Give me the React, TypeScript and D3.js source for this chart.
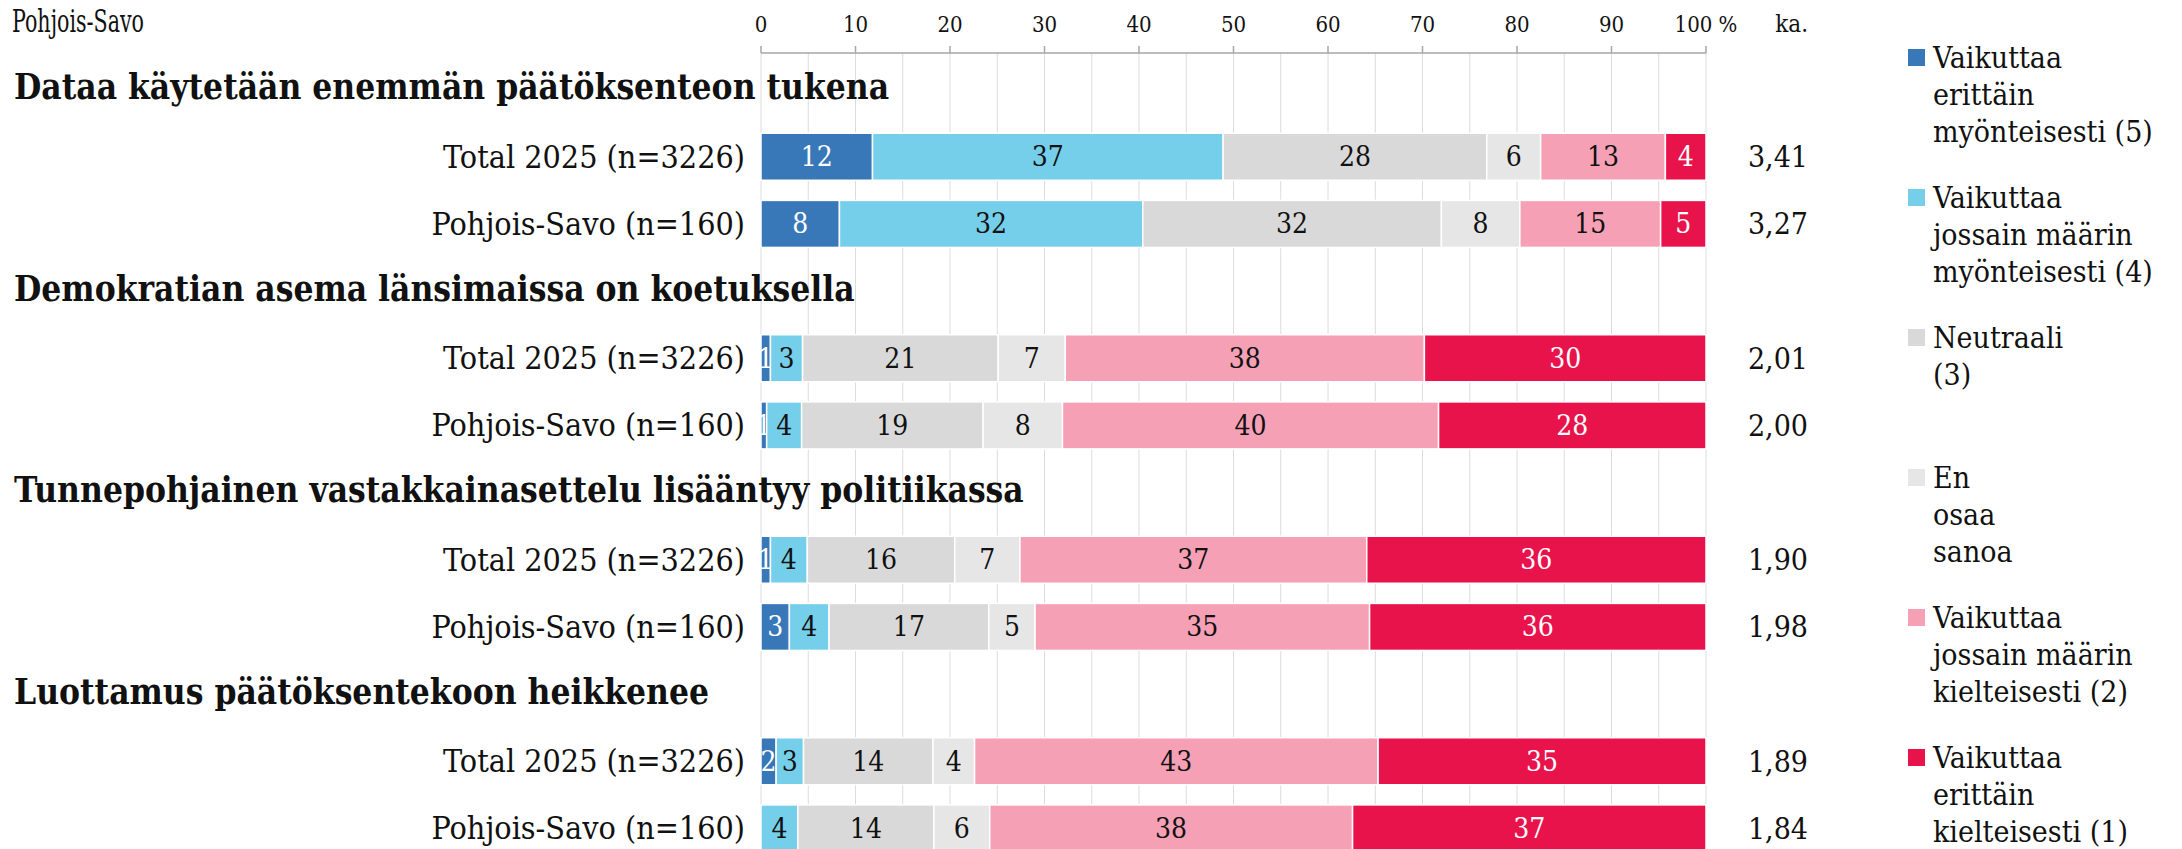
import React from 'react';
import * as d3 from 'd3';

// chart data
const title = 'Pohjois-Savo';
const statements = [
  'Dataa käytetään enemmän päätöksenteon tukena',
  'Demokratian asema länsimaissa on koetuksella',
  'Tunnepohjainen vastakkainasettelu lisääntyy politiikassa',
  'Luottamus päätöksentekoon heikkenee',
];
const groups = ['Total 2025 (n=3226)', 'Pohjois-Savo (n=160)'];
const legendLabels = [
  ['Vaikuttaa', 'erittäin', 'myönteisesti (5)'],
  ['Vaikuttaa', 'jossain määrin', 'myönteisesti (4)'],
  ['Neutraali', '(3)'],
  ['En', 'osaa', 'sanoa'],
  ['Vaikuttaa', 'jossain määrin', 'kielteisesti (2)'],
  ['Vaikuttaa', 'erittäin', 'kielteisesti (1)'],
];
// one value per bar, bars in order: statement 1 total, statement 1 region, ...
const v5 = [11.8, 8.3, 1.0, 0.6, 1.0, 3.0, 1.6, 0];
const v4 = [37.1, 32.1, 3.4, 3.7, 3.9, 4.2, 2.9, 3.9];
const v3 = [27.9, 31.6, 20.7, 19.2, 15.6, 16.9, 13.7, 14.4];
const eos = [5.7, 8.3, 7.1, 8.4, 6.9, 4.9, 4.4, 5.9];
const v2 = [13.2, 14.9, 38.0, 39.8, 36.7, 35.4, 42.7, 38.4];
const v1 = [4.3, 4.8, 29.8, 28.3, 35.9, 35.6, 34.7, 37.4];
const averages = [3.41, 3.27, 2.01, 2.0, 1.9, 1.98, 1.89, 1.84];
const ticks = [0, 10, 20, 30, 40, 50, 60, 70, 80, 90, 100];

const keys = ['v5', 'v4', 'v3', 'eos', 'v2', 'v1'];
const colors = ['#3878b9', '#76cfea', '#d9d9d9', '#e6e6e6', '#f6a0b6', '#e9134c'];
const labelColors = ['#ffffff', '#111111', '#111111', '#111111', '#111111', '#ffffff'];

const FONT = "'DejaVu Serif Condensed', 'DejaVu Serif', serif";

export default function App() {
  const width = 2182;
  const height = 849;

  const table = v5.map((_, i) => ({
    v5: v5[i], v4: v4[i], v3: v3[i], eos: eos[i], v2: v2[i], v1: v1[i],
  }));
  const series = d3.stack().keys(keys)(table as any);

  // rows: header, total, region for each statement
  const rows = d3.range(statements.length * 3);
  const x = d3.scaleLinear().domain([0, 100]).range([761, 1706]);
  const y = d3.scaleBand<number>().domain(rows).range([56, 862])
    .paddingInner(0.3).paddingOuter(0.15);
  const barRow = (i: number) => Math.floor(i / 2) * 3 + 1 + (i % 2);
  const gridVals = d3.range(0, 101, 5);
  const fmt = (v: number) => v.toFixed(2).replace('.', ',');

  return (
    <svg width={width} height={height}
      style={{ position: 'absolute', left: 0, top: 0, background: 'white', fontFamily: FONT, fontStretch: 'condensed' }}>
      <text x={12} y={32} fontSize={31} fill="#111" textLength={132} lengthAdjust="spacingAndGlyphs">{title}</text>

      {/* grid */}
      {gridVals.map(v => (
        <line key={'g' + v} x1={x(v)} x2={x(v)} y1={53} y2={862} stroke="#dcdcdc" strokeWidth={1} />
      ))}

      {/* axis on top */}
      <line x1={x(0)} x2={x(100)} y1={53} y2={53} stroke="#a6a6a6" strokeWidth={1.5} />
      {ticks.map(t => (
        <g key={'t' + t}>
          <line x1={x(t)} x2={x(t)} y1={46} y2={53} stroke="#a6a6a6" strokeWidth={1.5} />
          <text x={x(t)} y={32} fontSize={22} textAnchor="middle" fill="#111">
            {t === 100 ? '100 %' : t}
          </text>
        </g>
      ))}
      <text x={1808} y={32} fontSize={24} textAnchor="end" fill="#111">ka.</text>

      {/* statement headers */}
      {statements.map((s, g) => (
        <text key={s} x={14} y={y(g * 3)! + y.bandwidth() / 2 - 3} dominantBaseline="central"
          fontSize={35} fontWeight="bold" fill="#111">{s}</text>
      ))}

      {/* row labels and averages */}
      {averages.map((a, i) => {
        const cy = y(barRow(i))! + y.bandwidth() / 2;
        return (
          <g key={'r' + i}>
            <text x={745} y={cy} dominantBaseline="central" textAnchor="end" fontSize={32} fill="#111">
              {groups[i % 2]}
            </text>
            <text x={1808} y={cy} dominantBaseline="central" textAnchor="end" fontSize={30} fill="#111">
              {fmt(a)}
            </text>
          </g>
        );
      })}

      {/* stacked bars */}
      {series.map((s, k) => (
        <g key={keys[k]}>
          {s.map((d, i) => {
            const val = (d.data as any)[keys[k]] as number;
            if (val <= 0) return null;
            const y0 = y(barRow(i))!;
            return (
              <g key={i}>
                <rect x={x(d[0])} y={y0} width={x(d[1]) - x(d[0])} height={y.bandwidth()}
                  fill={colors[k]} stroke="#ffffff" strokeWidth={1.5} />
                <text x={(x(d[0]) + x(d[1])) / 2} y={y0 + y.bandwidth() / 2} dominantBaseline="central"
                  textAnchor="middle" fontSize={28} fill={labelColors[k]}>
                  {Math.round(val)}
                </text>
              </g>
            );
          })}
        </g>
      ))}

      {/* legend */}
      {legendLabels.map((lines, k) => {
        const base = 68 + k * 140;
        return (
          <g key={'l' + k}>
            <rect x={1908} y={base - 19} width={17} height={17} fill={colors[k]} />
            {lines.map((ln, j) => (
              <text key={j} x={1933} y={base + j * 37} fontSize={30} fill="#111">{ln}</text>
            ))}
          </g>
        );
      })}
    </svg>
  );
}
